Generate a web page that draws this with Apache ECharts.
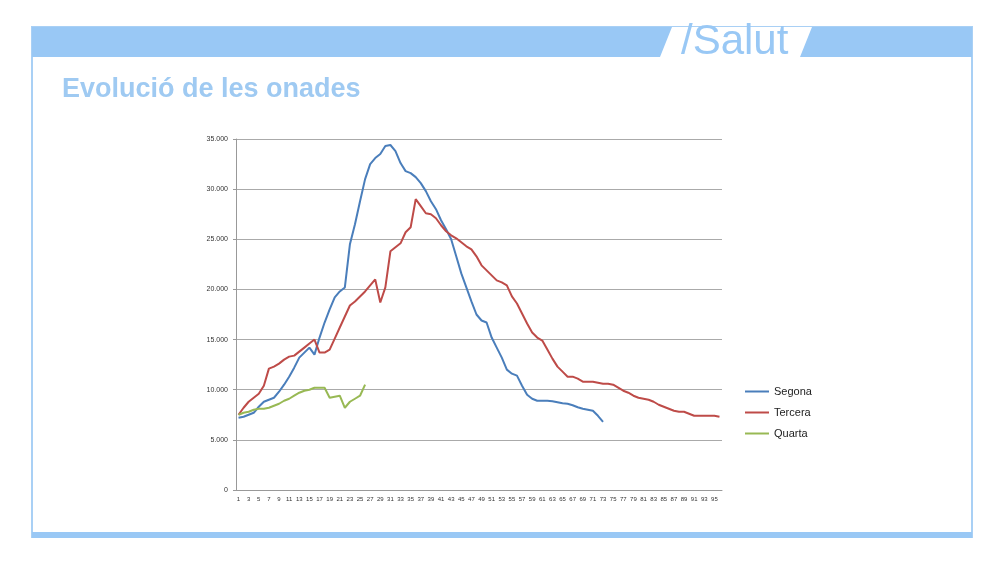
<!DOCTYPE html>
<html>
<head>
<meta charset="utf-8">
<title>Evolució de les onades</title>
<script src="https://cdn.jsdelivr.net/npm/echarts@6/dist/echarts.min.js"></script>
<style>body{margin:0;background:#fff}#chart{width:1008px;height:562px}</style>
</head>
<body>
<div id="chart"></div>
<script>
var days = [];
for (var i = 1; i <= 96; i++) days.push(String(i));
var segona = [7200,7300,7500,7700,8300,8800,9000,9200,9800,10500,11300,12200,13200,13700,14200,13500,15200,16700,18000,19200,19800,20200,24500,26500,28800,31000,32500,33100,33500,34300,34400,33800,32600,31800,31600,31200,30600,29800,28800,28000,26900,26000,25000,23300,21600,20200,18800,17500,16900,16700,15200,14200,13200,12000,11600,11400,10400,9500,9100,8900,8900,8900,8850,8750,8650,8600,8450,8250,8100,8000,7900,7400,6800];
var tercera = [7500,8200,8800,9200,9600,10400,12100,12300,12600,13000,13300,13400,13800,14200,14600,15000,13700,13700,14000,15100,16200,17300,18400,18800,19300,19800,20400,21000,18700,20200,23800,24200,24600,25700,26200,29000,28300,27600,27500,27100,26400,25800,25400,25100,24700,24300,24000,23300,22400,21900,21400,20900,20700,20400,19300,18600,17600,16600,15700,15200,14900,14000,13100,12300,11800,11300,11300,11100,10800,10800,10800,10700,10600,10600,10500,10200,9900,9700,9400,9200,9100,9000,8800,8500,8300,8100,7900,7800,7800,7600,7400,7400,7400,7400,7400,7300];
var quarta = [7500,7700,7800,8000,8100,8100,8200,8400,8600,8900,9100,9400,9700,9900,10000,10200,10200,10200,9200,9300,9400,8200,8800,9100,9400,10500];

var chart = echarts.init(document.getElementById('chart'));
chart.setOption({
  animation: false,
  backgroundColor: '#ffffff',
  graphic: [
    { type: 'rect', shape: { x: 32, y: 27, width: 940, height: 510 }, style: { fill: 'none', stroke: '#a9d0f5', lineWidth: 2 } },
    { type: 'rect', shape: { x: 32, y: 27, width: 940, height: 30 }, style: { fill: '#99c8f5' } },
    { type: 'polygon', shape: { points: [[672, 27], [812, 27], [800, 57], [660, 57]] }, style: { fill: '#ffffff' } },
    { type: 'text', left: 681, top: 21, style: { text: '/Salut', fill: '#99c8f5', font: '42px "Liberation Sans", Arial' } },
    { type: 'rect', shape: { x: 32, y: 532, width: 940, height: 6 }, style: { fill: '#99c8f5' } },
    { type: 'text', left: 62, top: 76, style: { text: 'Evolució de les onades', fill: '#9fcaf2', font: 'bold 27px "Liberation Sans", Arial' } }
  ],
  color: ['#4a7ebb', '#be4b48', '#98b954'],
  legend: {
    orient: 'vertical', left: 740, top: 381, itemGap: 10,
    icon: 'rect', itemWidth: 24, itemHeight: 2,
    textStyle: { fontSize: 11, color: '#222' }
  },
  grid: { left: 236, top: 139, width: 486, height: 351 },
  xAxis: {
    type: 'category', data: days, boundaryGap: true,
    axisLine: { lineStyle: { color: '#999' } },
    axisTick: { interval: 0, length: 3, lineStyle: { color: '#999' } },
    axisLabel: { interval: 1, fontSize: 6, color: '#333', margin: 6 }
  },
  yAxis: {
    type: 'value', min: 0, max: 35000, interval: 5000,
    axisLine: { show: true, lineStyle: { color: '#999' } },
    axisTick: { show: true, length: 3, lineStyle: { color: '#999' } },
    splitLine: { lineStyle: { color: '#aaa' } },
    axisLabel: { fontSize: 7, color: '#333', formatter: function (v) { return v === 0 ? '0' : (v / 1000).toFixed(3); } }
  },
  series: [
    { name: 'Segona', type: 'line', data: segona, showSymbol: false, lineStyle: { width: 2 } },
    { name: 'Tercera', type: 'line', data: tercera, showSymbol: false, lineStyle: { width: 2 } },
    { name: 'Quarta', type: 'line', data: quarta, showSymbol: false, lineStyle: { width: 2 } }
  ]
});
</script>
</body>
</html>
